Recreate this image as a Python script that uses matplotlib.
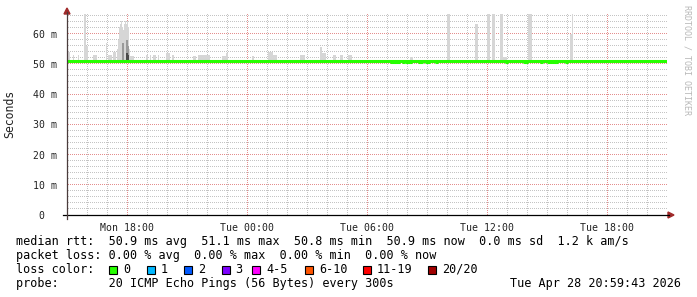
import matplotlib
matplotlib.use("Agg")
import numpy as np
import matplotlib.pyplot as plt
from matplotlib.colors import to_rgb
from matplotlib.patches import Rectangle, Polygon
from matplotlib.lines import Line2D

# ---------------- data ----------------
span_hours = 30                      # Mon 15:00 -> Tue 21:00
median_base = 50.9                   # ms
dip_start = [16.15, 16.75, 16.9, 17.55, 17.9, 18.4, 21.9, 22.8, 23.65, 24.0, 24.9]
dip_end = [16.65, 16.9, 17.25, 17.8, 18.15, 18.55, 22.05, 23.05, 23.8, 24.55, 25.05]
dip_value = 50.5

smoke_start = [0.05, 0.3, 0.55, 0.85, 0.95, 1.3, 1.95, 2.05, 2.3, 2.5, 2.55, 2.6, 2.65,
               2.7, 2.75, 2.8, 2.85, 2.9, 2.95, 3.0, 3.05, 3.1, 3.15, 3.95, 4.15, 4.3,
               4.55, 4.95, 5.25, 6.3, 6.55, 7.75, 7.95, 9.25, 10.05, 10.3, 11.65, 12.65,
               12.75, 13.3, 13.65, 14.05, 17.15, 18.98, 20.4, 21.0, 21.25, 21.65, 21.8,
               23.05, 25.15, 25.25]
smoke_width = [0.1, 0.05, 0.05, 0.1, 0.1, 0.2, 0.05, 0.2, 0.15, 0.05, 0.05, 0.05, 0.05,
               0.05, 0.05, 0.05, 0.05, 0.05, 0.05, 0.05, 0.05, 0.05, 0.2, 0.1, 0.05, 0.15,
               0.05, 0.2, 0.1, 0.15, 0.6, 0.2, 0.1, 0.1, 0.25, 0.2, 0.25, 0.1,
               0.2, 0.15, 0.15, 0.2, 0.15, 0.17, 0.15, 0.15, 0.15, 0.15, 0.2,
               0.2, 0.15, 0.05]
smoke_top = [54, 53, 53, 66.3, 56, 53, 57, 53, 54, 55, 58, 62, 63,
             64, 62, 61, 63, 64, 63, 64, 62, 55, 52.5, 53, 53, 53,
             53, 53.5, 53, 52.5, 53, 52.5, 53.5, 52.5, 54, 53, 53, 55.5,
             53.5, 53, 53, 53, 52.3, 66.3, 63, 66.3, 66.3, 66.3, 52.3,
             66.3, 60, 66.3]

mid_start = [2.75, 2.95, 3.05]
mid_width = [0.1, 0.1, 0.05]
mid_top = [57, 58, 56]
dark_start = [2.95, 3.05]
dark_width = [0.1, 0.05]
dark_top = [53.5, 52.8]

tick_hours = [3, 9, 15, 21, 27]
tick_labels = ["Mon 18:00", "Tue 00:00", "Tue 06:00", "Tue 12:00", "Tue 18:00"]
y_ticks = [0, 10, 20, 30, 40, 50, 60]
y_tick_labels = ["0  ", "10 m", "20 m", "30 m", "40 m", "50 m", "60 m"]

line_rtt = "median rtt:  50.9 ms avg  51.1 ms max  50.8 ms min  50.9 ms now  0.0 ms sd  1.2 k am/s"
line_loss = "packet loss: 0.00 % avg  0.00 % max  0.00 % min  0.00 % now"
line_color = "loss color:"
line_probe = "probe:       20 ICMP Echo Pings (56 Bytes) every 300s"
line_date = "Tue Apr 28 20:59:43 2026"
loss_labels = ["0", "1", "2", "3", "4-5", "6-10", "11-19", "20/20"]
loss_colors = ["#26ff00", "#00b8ff", "#0059ff", "#7e00ff", "#ff00ff", "#ff5500", "#ff0000", "#a10000"]

# ---------------- layout ----------------
W, H, DPI = 697, 297, 100
X0, X1, Y0, YT = 67, 667, 215, 14
MONO = "DejaVu Sans Mono"
YMAX = 66.45
MINOR_C = "#c4c4c4"
MAJOR_C = "#e48e8e"

def fx(px):
    return px / W

def fy(py):
    return 1 - py / H

fig = plt.figure(figsize=(W / DPI, H / DPI), dpi=DPI, facecolor="white")
ax = fig.add_axes([fx(X0), fy(Y0), (X1 - X0) / W, (Y0 - YT) / H])
ax.set_facecolor("none")
ax.set_xlim(0, span_hours)
ax.set_ylim(0, YMAX)
for s in ax.spines.values():
    s.set_visible(False)

# ---- pixel-exact dotted grid (1px dots, 1px gaps) placed behind the axes ----
grid = np.zeros((H, W, 4))
(xl, yb), (xr, yt) = ax.transData.transform([(0, 0), (span_hours, YMAX)])
col_l, col_r = int(np.floor(xl)), int(np.floor(xr))
row_b, row_t = H - 1 - int(np.floor(yb)), H - 1 - int(np.floor(yt))

def hline(v, color):
    r = H - 1 - int(np.floor(ax.transData.transform((0, v))[1]))
    for c in range(col_l + 1, col_r, 2):
        grid[r, c, :3] = to_rgb(color)
        grid[r, c, 3] = 1.0

def vline(h, color):
    c = int(np.floor(ax.transData.transform((h, 0))[0]))
    for r in range(row_b - 1, row_t - 1, -2):
        grid[r, c, :3] = to_rgb(color)
        grid[r, c, 3] = 1.0

for h in range(1, span_hours):
    vline(h, MAJOR_C if h in tick_hours else MINOR_C)
for v in range(2, int(YMAX) + 1, 2):
    hline(v, MAJOR_C if v in y_ticks else MINOR_C)
fig.figimage(grid, xo=0, yo=0, origin="upper", zorder=-1)

ax.tick_params(which="both", length=0)
ax.set_xticks(tick_hours)
ax.set_xticklabels(tick_labels, fontfamily=MONO, fontsize=7.1, color="#222222")
ax.set_yticks(y_ticks)
ax.set_yticklabels(y_tick_labels, fontfamily=MONO, fontsize=7.1, color="#222222")
ax.tick_params(axis="x", pad=6)
ax.tick_params(axis="y", pad=7)

# smoke
ax.bar(smoke_start, [t - median_base for t in smoke_top], bottom=median_base,
       width=smoke_width, align="edge", color="#d6d6d6", linewidth=0, zorder=2)
ax.bar(mid_start, [t - median_base for t in mid_top], bottom=median_base,
       width=mid_width, align="edge", color="#9a9a9a", linewidth=0, zorder=2)
ax.bar(dark_start, [t - median_base for t in dark_top], bottom=median_base,
       width=dark_width, align="edge", color="#4a4a4a", linewidth=0, zorder=2)

# median line plus the short dips below it
ax.plot([0, span_hours], [median_base, median_base], color="#26ff00", linewidth=2.2,
        solid_capstyle="butt", zorder=3)
ax.hlines([dip_value] * len(dip_start), dip_start, dip_end, color="#26ff00",
          linewidth=2.2, zorder=3)

# axes lines with arrows
fig.add_artist(Line2D([fx(63), fx(669)], [fy(Y0), fy(Y0)], color="black", linewidth=0.9))
fig.add_artist(Line2D([fx(X0), fx(X0)], [fy(219), fy(12)], color="#4a3c3c", linewidth=0.9))
fig.add_artist(Polygon([[fx(668), fy(Y0 - 3)], [fx(674), fy(Y0)], [fx(668), fy(Y0 + 3)]],
                       closed=True, color="#a02a2a", transform=fig.transFigure))
fig.add_artist(Polygon([[fx(X0 - 3), fy(14)], [fx(X0), fy(8)], [fx(X0 + 3), fy(14)]],
                       closed=True, color="#a02a2a", transform=fig.transFigure))

# y label and watermark
fig.text(fx(10), fy(114), "Seconds", rotation=90, ha="center", va="center",
         fontfamily=MONO, fontsize=8.3, color="#222222")
fig.text(fx(687), fy(60), "RRDTOOL / TOBI OETIKER", rotation=-90, ha="center", va="center",
         fontfamily=MONO, fontsize=6.0, color="#b8b8b8")

# legend texts
fs = 8.5
fig.text(fx(16), fy(241.5), line_rtt, ha="left", va="center", fontfamily=MONO, fontsize=fs, color="black")
fig.text(fx(16), fy(255.5), line_loss, ha="left", va="center", fontfamily=MONO, fontsize=fs, color="black")
fig.text(fx(16), fy(269.5), line_color, ha="left", va="center", fontfamily=MONO, fontsize=fs, color="black")
fig.text(fx(16), fy(283), line_probe, ha="left", va="center", fontfamily=MONO, fontsize=fs, color="black")
fig.text(fx(681), fy(283), line_date, ha="right", va="center", fontfamily=MONO, fontsize=fs, color="black")

box_x = [109, 146.5, 184, 221.5, 252, 305, 363, 428]
for bx, lab, col in zip(box_x, loss_labels, loss_colors):
    fig.add_artist(Rectangle((fx(bx), fy(274)), 8 / W, 8 / H, transform=fig.transFigure,
                             facecolor=col, edgecolor="black", linewidth=0.8))
    fig.text(fx(bx + 14), fy(269.5), lab, ha="left", va="center", fontfamily=MONO,
             fontsize=fs, color="black")

fig.savefig("out.png", dpi=DPI, facecolor="white")
